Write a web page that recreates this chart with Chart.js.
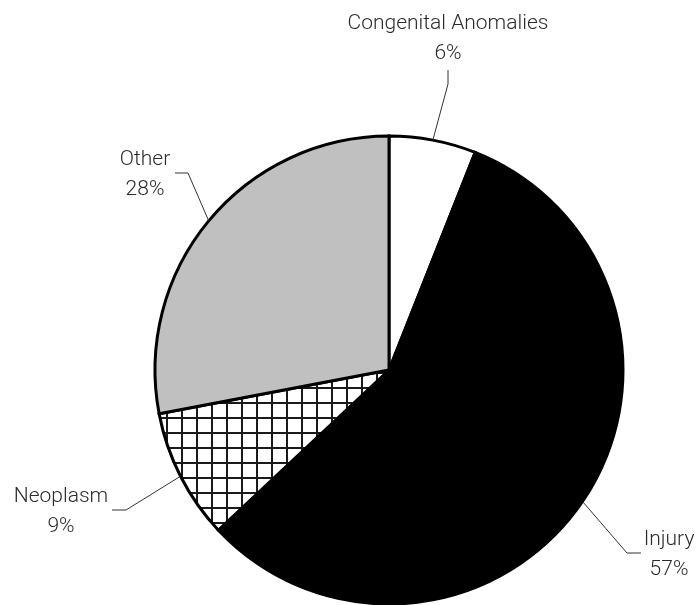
<!DOCTYPE html>
<html>
<head>
<meta charset="utf-8">
<script src="https://cdn.jsdelivr.net/npm/chart.js@4/dist/chart.umd.min.js"></script>
<style>
  body { margin: 0; background: #fff; }
</style>
</head>
<body>
<canvas id="myChart" width="700" height="605"></canvas>
<script>
// pie data
var causes = ["Congenital Anomalies", "Injury", "Neoplasm", "Other"];
var shares = [6, 57, 9, 28];

// grid pattern for the neoplasm slice
function gridPattern() {
  var c = document.createElement("canvas");
  c.width = 15;
  c.height = 15;
  var g = c.getContext("2d");
  g.fillStyle = "#fff";
  g.fillRect(0, 0, 15, 15);
  g.fillStyle = "#1a1a1a";
  g.fillRect(1, 0, 2, 15);
  g.fillRect(0, 12, 15, 2);
  return document.getElementById("myChart").getContext("2d").createPattern(c, "repeat");
}

// where each label goes: elbow of the leader line, end of it, text centre
var callouts = [
  { elbow: [448, 84], end: [448, 70], text: [448, 24] },
  { elbow: [627, 553], end: [641, 553], text: [669, 540] },
  { elbow: [126, 510], end: [112, 510], text: [61, 497] },
  { elbow: [188, 173], end: [175, 173], text: [145, 160] }
];

var labelPlugin = {
  id: "callouts",
  afterDraw: function(chart) {
    var ctx = chart.ctx;
    var meta = chart.getDatasetMeta(0);
    ctx.save();
    for (var i = 0; i < meta.data.length; i++) {
      var arc = meta.data[i];
      var mid = (arc.startAngle + arc.endAngle) / 2;
      var ax = arc.x + Math.cos(mid) * arc.outerRadius;
      var ay = arc.y + Math.sin(mid) * arc.outerRadius;
      var c = callouts[i];
      ctx.strokeStyle = "#333";
      ctx.lineWidth = 1;
      ctx.beginPath();
      ctx.moveTo(ax, ay);
      ctx.lineTo(c.elbow[0], c.elbow[1]);
      ctx.lineTo(c.end[0], c.end[1]);
      ctx.stroke();

      ctx.fillStyle = "#2b2b2b";
      ctx.font = "300 21px Roboto";
      ctx.textAlign = "center";
      ctx.textBaseline = "middle";
      ctx.fillText(causes[i], c.text[0], c.text[1]);
      ctx.fillText(shares[i] + "%", c.text[0], c.text[1] + 30);
    }
    ctx.restore();
  }
};

const config = {
  type: "pie",
  data: {
    labels: causes,
    datasets: [
      {
        data: shares,
        backgroundColor: ["#ffffff", "#000000", gridPattern(), "#c0c0c0"],
        borderColor: "#000",
        borderWidth: 3,
        borderJoinStyle: "miter",
        radius: 234
      }
    ]
  },
  options: {
    responsive: false,
    animation: false,
    layout: { padding: { left: 78, right: 0, top: 135, bottom: 0 } },
    plugins: {
      legend: { display: false },
      tooltip: { enabled: false }
    }
  },
  plugins: [labelPlugin]
};
const myChart = new Chart(document.getElementById("myChart"), config);
</script>
</body>
</html>
